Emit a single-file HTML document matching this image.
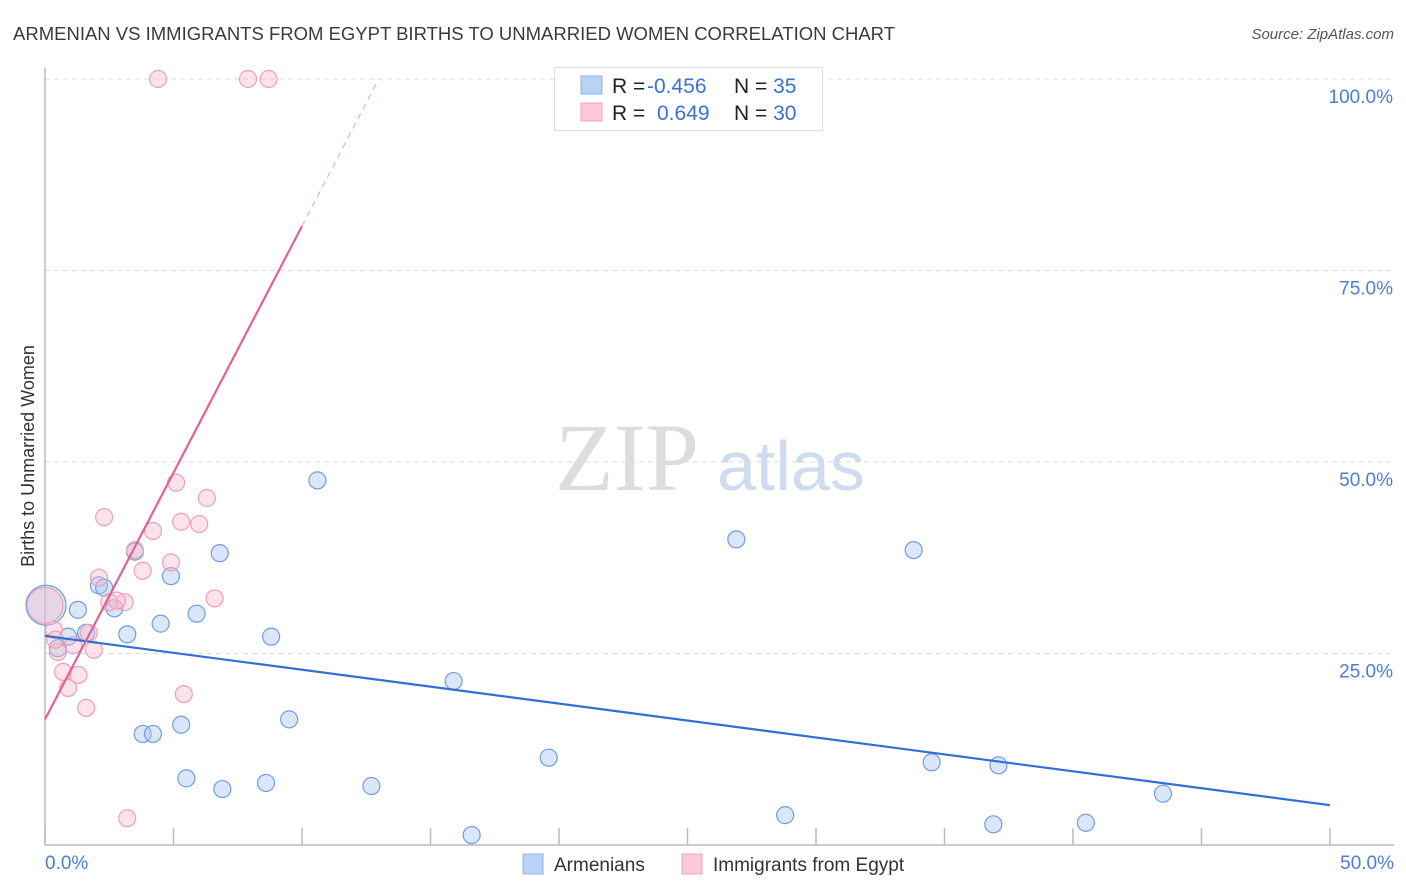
<!DOCTYPE html>
<html><head><meta charset="utf-8"><style>
body{margin:0;background:#fff;font-family:"Liberation Sans",sans-serif;}
svg{display:block}
</style></head><body>
<svg id="chart" width="1406" height="892" xmlns="http://www.w3.org/2000/svg">
<text x="13" y="40" font-size="18" fill="#3a3a3a" textLength="882" lengthAdjust="spacingAndGlyphs">ARMENIAN VS IMMIGRANTS FROM EGYPT BIRTHS TO UNMARRIED WOMEN CORRELATION CHART</text>
<text x="1394" y="39" font-size="15" fill="#555" font-style="italic" text-anchor="end">Source: ZipAtlas.com</text>
<g id="grid"></g>
<text x="555" y="490" font-size="96" fill="#ddd" font-family="Liberation Serif,serif">ZIP</text>
<text x="717" y="490" font-size="70" fill="#cfdcf0">atlas</text>
<line x1="45" y1="68" x2="45" y2="845" stroke="#bbb" stroke-width="1.5"/>
<line x1="45" y1="845" x2="1394" y2="845" stroke="#bbb" stroke-width="1.5"/>
<g id="xticks"></g>
<g id="yticks"></g>
<text x="45" y="869" font-size="19" fill="#4a7fd4">0.0%</text>
<text x="1394" y="869" font-size="19" fill="#4a7fd4" text-anchor="end">50.0%</text>
<text transform="translate(34,456) rotate(-90)" font-size="18" fill="#333" text-anchor="middle">Births to Unmarried Women</text>
<g id="points"></g>
<g id="trends"></g>
<g>
<rect x="554.5" y="67.5" width="268" height="63" fill="#fff" stroke="#ddd"/>
<rect x="581" y="76" width="21" height="18" fill="#b9d3f5" stroke="#8fb4e8"/>
<rect x="581" y="103" width="21" height="18" fill="#fac8d8" stroke="#f0a3bc"/>
<text x="612" y="93" font-size="21" fill="#222">R = <tspan x="647" fill="#3a72d0">-0.456</tspan><tspan x="734">N = </tspan><tspan fill="#3a72d0">35</tspan></text>
<text x="612" y="120" font-size="21" fill="#222">R = <tspan x="657" fill="#3a72d0">0.649</tspan><tspan x="734">N = </tspan><tspan fill="#3a72d0">30</tspan></text>
</g>
<g>
<rect x="523" y="854" width="20" height="20" fill="#b9d3f5" stroke="#8fb4e8"/>
<text x="554" y="871" font-size="19" fill="#333">Armenians</text>
<rect x="682" y="854" width="20" height="20" fill="#fac8d8" stroke="#f0a3bc"/>
<text x="713" y="871" font-size="19" fill="#333">Immigrants from Egypt</text>
</g>
</svg>
<script>
const armX=[0.04,1.28,0.5,0.9,1.6,2.1,2.3,2.7,3.5,3.2,4.5,4.9,5.9,6.8,5.3,3.8,4.2,5.5,6.9,8.6,9.5,8.8,10.6,12.7,15.9,16.6,19.6,26.9,28.8,33.8,34.5,36.9,37.1,40.5,43.5];
const armY=[31.3,30.7,25.7,27.2,27.7,33.9,33.6,30.9,38.3,27.5,28.9,35.1,30.2,38.1,15.7,14.5,14.5,8.7,7.3,8.1,16.4,27.2,47.6,7.7,21.4,1.3,11.4,39.9,3.9,38.5,10.8,2.7,10.4,2.9,6.7];
const egyX=[4.4,7.9,8.7,5.1,6.3,2.3,5.3,6.0,4.2,3.5,4.9,3.8,2.1,6.6,3.1,2.5,0.0,0.35,1.7,1.1,1.9,0.5,0.7,1.3,0.9,5.4,1.6,3.2,2.8,0.4];
const egyY=[100,100,100,47.3,45.3,42.8,42.2,41.9,41.0,38.5,36.9,35.8,34.9,32.2,31.7,31.7,31.3,28.1,27.7,26.1,25.5,25.2,22.6,22.2,20.5,19.7,17.9,3.5,31.9,26.8];
const yTicks=[25,50,75,100];
const yTickLabels=["25.0%","50.0%","75.0%","100.0%"];
const xTicks=[0,5,10,15,20,25,30,35,40,45,50];
const armTrend=[27.3,5.2];
const egyTrend=[16.4,6.44];
const NS="http://www.w3.org/2000/svg";
const sx=v=>45+v/50*1285, sy=v=>845-v/100*766;
function mk(t,a,p){const e=document.createElementNS(NS,t);for(const k in a)e.setAttribute(k,a[k]);p.appendChild(e);return e;}
const grid=document.getElementById('grid'),yt=document.getElementById('yticks'),xt=document.getElementById('xticks');
yTicks.forEach((v,i)=>{
 const l=mk('line',{x1:45,x2:1394,y1:sy(v),y2:sy(v),stroke:'#ddd','stroke-dasharray':'5,4'},grid);
 
 
 const t=mk('text',{x:1393,y:sy(v)+24,'font-size':19,fill:'#4a7fd4','text-anchor':'end'},yt);
 t.textContent=yTickLabels[i];
 
 
});
xTicks.forEach(v=>{
 const l=mk('line',{x1:sx(v),x2:sx(v),y1:828,y2:845,stroke:'#bbb','stroke-width':1.5},xt);
 
 
});
const pts=document.getElementById('points');
armX.forEach((x,i)=>{
 const c=mk('circle',{cx:sx(x),cy:sy(armY[i]),r:i==0?20:8.5,fill:'rgba(164,196,240,0.4)',stroke:'#6f9ee0','stroke-width':1.2},pts);
 
 
});
egyX.forEach((x,i)=>{
 const c=mk('circle',{cx:sx(x),cy:sy(egyY[i]),r:i==16?18:8.5,fill:'rgba(248,184,204,0.4)',stroke:'#eea0b9','stroke-width':1.2},pts);
 
 
});
const tr=document.getElementById('trends');
const bl=mk('line',{x1:sx(0),y1:sy(armTrend[0]),x2:sx(50),y2:sy(armTrend[1]),stroke:'#2f6fd6','stroke-width':2.2},tr);


const xEnd=10, xTop=(100-egyTrend[0])/egyTrend[1];
const pl=mk('line',{x1:sx(0),y1:sy(egyTrend[0]),x2:sx(xEnd),y2:sy(egyTrend[0]+egyTrend[1]*xEnd),stroke:'#e4628d','stroke-width':2.2},tr);


const pd=mk('line',{x1:sx(xEnd),y1:sy(egyTrend[0]+egyTrend[1]*xEnd),x2:sx(xTop),y2:sy(100),stroke:'#eea0b9','stroke-width':1,'stroke-dasharray':'6,5'},tr);


</script>
</body></html>
